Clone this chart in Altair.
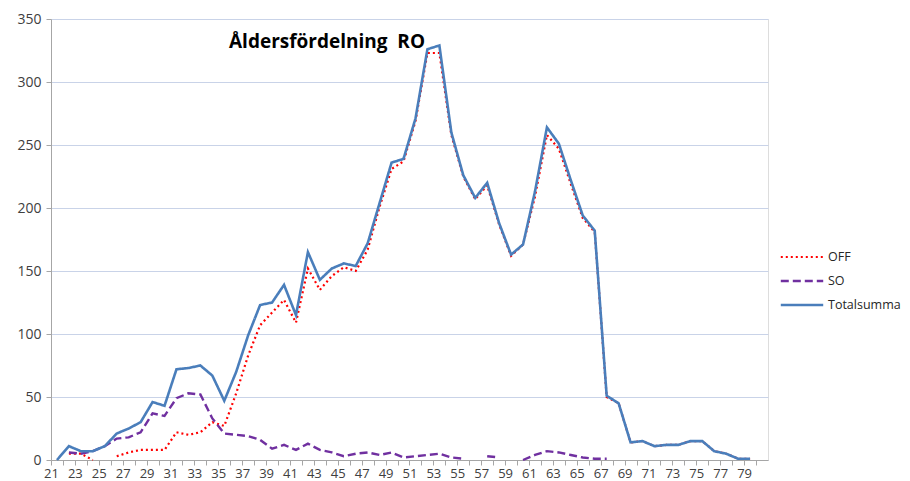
import altair as alt
import pandas as pd

ages = list(range(21, 81))

totalsumma = [0, 11, 7, 7, 11, 21, 25, 30, 46, 43, 72, 73, 75, 67, 47, 70, 99, 123, 125, 139,
              115, 165, 143, 152, 156, 154, 172, 204, 236, 239, 271, 326, 329, 260, 226, 208, 220, 188, 163, 171,
              213, 264, 251, 222, 194, 182, 51, 45, 14, 15, 11, 12, 12, 15, 15, 7, 5, 1, 1, None]

off = [None, 5, 5, 0, None, 3, 6, 8, 8, 8, 22, 20, 22, 30, 27, 53, 83, 107, 117, 127,
       109, 152, 135, 146, 153, 150, 167, 201, 231, 237, 269, 323, 323, 258, 225, 207, 218, 187, 162, 171,
       209, 258, 247, 219, 192, 181, 50, 45, 14, 15, 11, 12, 12, 15, 15, 7, 5, 1, 1, None]

so = [None, 6, 5, 7, 11, 17, 18, 22, 37, 35, 49, 53, 52, 33, 21, 20, 19, 16, 9, 12,
      8, 13, 8, 6, 3, 5, 6, 4, 6, 2, 3, 4, 5, 2, 1, None, 3, 2, None, 0,
      4, 7, 6, 4, 2, 1, 1, None, None, None, None, None, None, None, None, None, None, None, None, None]

series_names = ["OFF", "SO", "Totalsumma"]
series_colors = ["#FF0000", "#7030A0", "#4A7EBB"]
series_dash = [[2, 3], [8, 4], [1, 0]]
series_width = [2.2, 2.6, 2.6]

rows = []
for name, vals in zip(series_names, [off, so, totalsumma]):
    for a, v in zip(ages, vals):
        rows.append({"age": a, "serie": name, "value": v})
df = pd.DataFrame(rows)

label_expr = "(datum.value % 2 == 1 && datum.value < 80) ? toString(datum.value) : ''"

legend_kw = dict(title=None, orient="none", legendX=728, legendY=231,
                 symbolType="stroke", symbolSize=1800, symbolStrokeWidth=2, clipHeight=14,
                 labelFont="Open Sans", labelFontSize=12.5, labelColor="#262626",
                 rowPadding=10, labelOffset=3, labelLimit=200)

lines = alt.Chart(df).mark_line(invalid="break-paths-show-domains").encode(
    x=alt.X("age:Q",
            scale=alt.Scale(domain=[20.5, 80.5], nice=False, zero=False),
            axis=alt.Axis(values=ages, labelExpr=label_expr, labelOverlap=False,
                          tickOffset=-6, labelFlush=False, grid=False, title=None,
                          tickSize=5, tickColor="#A6A6A6", domainColor="#A6A6A6",
                          labelFont="Open Sans", labelFontSize=13, labelColor="#404040",
                          labelPadding=2)),
    y=alt.Y("value:Q",
            scale=alt.Scale(domain=[0, 350], nice=False),
            axis=alt.Axis(values=[0, 50, 100, 150, 200, 250, 300, 350], title=None,
                          grid=True, gridColor="#C9D3E8", gridWidth=1,
                          tickSize=5, tickColor="#A6A6A6", domainColor="#A6A6A6",
                          labelFont="Open Sans", labelFontSize=14, labelColor="#404040",
                          labelPadding=5)),
    color=alt.Color("serie:N",
                    scale=alt.Scale(domain=series_names, range=series_colors),
                    legend=alt.Legend(**legend_kw)),
    strokeDash=alt.StrokeDash("serie:N",
                              scale=alt.Scale(domain=series_names, range=series_dash),
                              legend=alt.Legend(**legend_kw)),
    strokeWidth=alt.StrokeWidth("serie:N",
                                scale=alt.Scale(domain=series_names, range=series_width),
                                legend=None),
    order=alt.Order("serie:N"),
)

title_df = pd.DataFrame({"t": ["Åldersfördelning\u00a0\u00a0RO"]})
title = alt.Chart(title_df).mark_text(
    font="Open Sans", fontSize=19, fontWeight="bold", color="#000000", align="center", baseline="middle"
).encode(x=alt.value(276), y=alt.value(23), text="t:N")

chart = alt.layer(lines, title).properties(
    width=717, height=441,
    autosize=alt.AutoSizeParams(type="none"),
    padding={"left": 43, "top": 11, "right": 134, "bottom": 21},
).configure_view(stroke=None).configure(background="white")

chart.save("out.html", embed_options={"renderer": "svg", "actions": False})
